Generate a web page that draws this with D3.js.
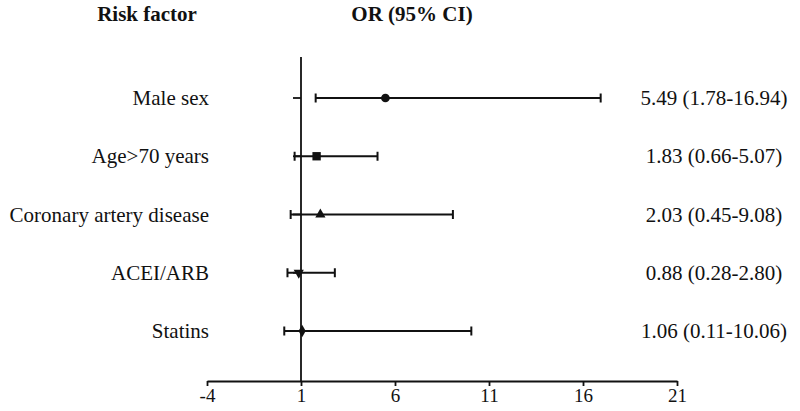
<!DOCTYPE html>
<html>
<head>
<meta charset="utf-8">
<script src="https://cdn.jsdelivr.net/npm/d3@7"></script>
<style>
  body { margin: 0; background: #fff; }
  svg text { font-family: "Liberation Serif", "Times New Roman", serif; fill: #111; }
</style>
</head>
<body>
<div id="graphique"></div>
<script>
// Donnees du forest plot
var facteurs = ["Male sex", "Age>70 years", "Coronary artery disease", "ACEI/ARB", "Statins"];
var or_valeurs = [5.49, 1.83, 2.03, 0.88, 1.06];
var ic_bas = [1.78, 0.66, 0.45, 0.28, 0.11];
var ic_haut = [16.94, 5.07, 9.08, 2.80, 10.06];
var etiquettes = ["5.49 (1.78-16.94)", "1.83 (0.66-5.07)", "2.03 (0.45-9.08)", "0.88 (0.28-2.80)", "1.06 (0.11-10.06)"];
var symboles = [d3.symbolCircle, d3.symbolSquare, d3.symbolTriangle, d3.symbolTriangle, d3.symbolDiamond];
var ticks_x = [-4, 1, 6, 11, 16, 21];

var largeur = 800, hauteur = 411;
var svg = d3.select("#graphique").append("svg")
    .attr("width", largeur)
    .attr("height", hauteur);

var x = d3.scaleLinear().domain([-4, 21]).range([207, 677]);
var y = d3.scalePoint().domain(facteurs).range([98, 331]);
var axeY = 381;
var taille = 21;

// En-tetes
svg.append("text").attr("x", 147).attr("y", 21).attr("text-anchor", "middle")
   .attr("font-size", taille).attr("font-weight", "bold").text("Risk factor");
svg.append("text").attr("x", 412).attr("y", 21).attr("text-anchor", "middle")
   .attr("font-size", taille).attr("font-weight", "bold").text("OR (95% CI)");

// Axe X
var gx = svg.append("g")
    .attr("transform", "translate(0," + axeY + ")")
    .call(d3.axisBottom(x).tickValues(ticks_x).tickSize(5).tickSizeOuter(0).tickPadding(3)
          .tickFormat(d => String(d)));
gx.select(".domain").attr("stroke", "#111").attr("stroke-width", 1.8);
gx.selectAll(".tick line").attr("stroke", "#111").attr("stroke-width", 1.8);
gx.selectAll(".tick text").attr("font-size", 19).attr("fill", "#111")
   .style("font-family", "'Liberation Serif', serif");

// Ligne verticale (OR = 1)
svg.append("line")
    .attr("x1", x(1)).attr("x2", x(1))
    .attr("y1", 57).attr("y2", axeY)
    .attr("stroke", "#111").attr("stroke-width", 1.8);

// petits ticks de la ligne verticale
svg.selectAll(".ytick").data(facteurs).enter().append("line")
    .attr("x1", x(1) - 8).attr("x2", x(1))
    .attr("y1", d => y(d)).attr("y2", d => y(d))
    .attr("stroke", "#111").attr("stroke-width", 1.8);

var rangs = svg.selectAll(".rang").data(facteurs).enter().append("g");

// etiquettes gauche
rangs.append("text")
    .attr("x", 209).attr("y", d => y(d) + 7)
    .attr("text-anchor", "end").attr("font-size", taille)
    .text(d => d);

// intervalles de confiance
rangs.append("line")
    .attr("x1", (d, i) => x(ic_bas[i])).attr("x2", (d, i) => x(ic_haut[i]))
    .attr("y1", d => y(d)).attr("y2", d => y(d))
    .attr("stroke", "#111").attr("stroke-width", 2);
rangs.append("line")
    .attr("x1", (d, i) => x(ic_bas[i])).attr("x2", (d, i) => x(ic_bas[i]))
    .attr("y1", d => y(d) - 4.5).attr("y2", d => y(d) + 4.5)
    .attr("stroke", "#111").attr("stroke-width", 2);
rangs.append("line")
    .attr("x1", (d, i) => x(ic_haut[i])).attr("x2", (d, i) => x(ic_haut[i]))
    .attr("y1", d => y(d) - 4.5).attr("y2", d => y(d) + 4.5)
    .attr("stroke", "#111").attr("stroke-width", 2);

// marqueurs
rangs.append("path")
    .attr("d", (d, i) => d3.symbol().type(symboles[i]).size(i == 0 ? 60 : (i == 1 ? 70 : 45))())
    .attr("transform", (d, i) => "translate(" + x(or_valeurs[i]) + "," + y(d) + ")" + (i == 3 ? " rotate(180)" : ""))
    .attr("fill", "#111");

// etiquettes droite
rangs.append("text")
    .attr("x", 714).attr("y", d => y(d) + 7)
    .attr("text-anchor", "middle").attr("font-size", taille)
    .text((d, i) => etiquettes[i]);
</script>
</body>
</html>
